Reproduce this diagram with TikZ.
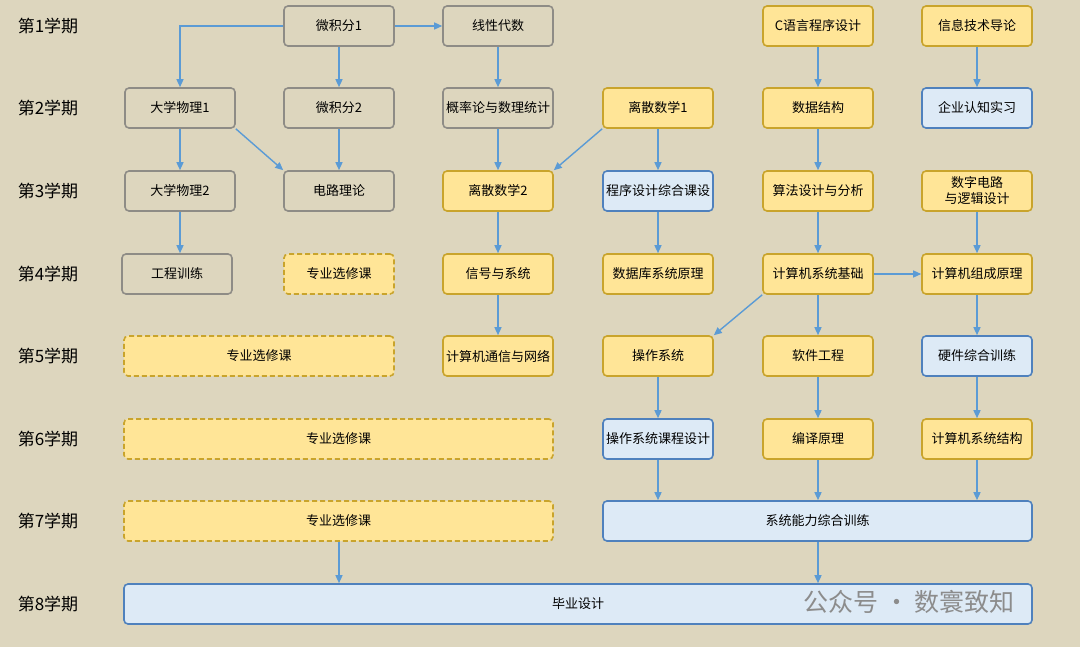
\documentclass[tikz,border=0pt]{standalone}
\usepackage{fontspec}
\setmainfont{Noto Sans CJK SC}
\usetikzlibrary{arrows.meta}
\definecolor{bgc}{HTML}{DDD6BE}
\definecolor{grayline}{HTML}{8E8C86}
\definecolor{yelfill}{HTML}{FFE597}
\definecolor{yelline}{HTML}{C9A42C}
\definecolor{bluefill}{HTML}{DDEAF6}
\definecolor{blueline}{HTML}{4F81BD}
\definecolor{arrowc}{HTML}{5B9BD5}
\tikzset{
  box/.style={draw, rounded corners=4pt, line width=1.6pt, minimum width=110pt,
    minimum height=40pt, align=center, inner sep=1pt, font=\fontsize{13}{15}\selectfont},
  grey/.style={box, draw=grayline, fill=bgc},
  yel/.style={box, draw=yelline, fill=yelfill},
  blu/.style={box, draw=blueline, fill=bluefill},
  elec/.style={yel, dashed, dash pattern=on 5pt off 3pt},
  term/.style={font=\fontsize{17}{17}\selectfont, anchor=center},
  arr/.style={draw=arrowc, line width=1.4pt, -{Triangle[length=8pt,width=7pt]}},
}
\begin{document}
\begin{tikzpicture}[x=1pt,y=-1pt]
  \fill[bgc] (0,0) rectangle (1080,647);
  \useasboundingbox (0,0) rectangle (1080,647);
  % semester labels
  \foreach \i/\y in {1/26,2/108,3/191,4/274,5/356,6/439,7/521,8/604}
    \node[term] (t\i) at (48,\y) {第\i 学期};
  % row 1
  \node[grey] (calcA) at (339,26) {微积分1};
  \node[grey] (linalg) at (498,26) {线性代数};
  \node[yel] (clang) at (818,26) {C语言程序设计};
  \node[yel] (infotech) at (977,26) {信息技术导论};
  % row 2
  \node[grey] (physA) at (180,108) {大学物理1};
  \node[grey] (calcB) at (339,108) {微积分2};
  \node[grey] (prob) at (498,108) {概率论与数理统计};
  \node[yel] (discA) at (658,108) {离散数学1};
  \node[yel] (dstruct) at (818,108) {数据结构};
  \node[blu] (intern) at (977,108) {企业认知实习};
  % row 3
  \node[grey] (physB) at (180,191) {大学物理2};
  \node[grey] (circuit) at (339,191) {电路理论};
  \node[yel] (discB) at (498,191) {离散数学2};
  \node[blu] (progdes) at (658,191) {程序设计综合课设};
  \node[yel] (algo) at (818,191) {算法设计与分析};
  \node[yel, font=\fontsize{13}{16}\selectfont] (digital) at (977,191) {数字电路\\与逻辑设计};
  % row 4
  \node[grey] (engtrain) at (177,274) {工程训练};
  \node[elec] (electA) at (339,274) {专业选修课};
  \node[yel] (signal) at (498,274) {信号与系统};
  \node[yel] (database) at (658,274) {数据库系统原理};
  \node[yel] (csbase) at (818,274) {计算机系统基础};
  \node[yel] (organ) at (977,274) {计算机组成原理};
  % row 5
  \node[elec, minimum width=270pt] (electB) at (259,356) {专业选修课};
  \node[yel] (network) at (498,356) {计算机通信与网络};
  \node[yel] (os) at (658,356) {操作系统};
  \node[yel] (softeng) at (818,356) {软件工程};
  \node[blu] (hardware) at (977,356) {硬件综合训练};
  % row 6
  \node[elec, minimum width=429pt] (electC) at (338.5,439) {专业选修课};
  \node[blu] (osdes) at (658,439) {操作系统课程设计};
  \node[yel] (compiler) at (818,439) {编译原理};
  \node[yel] (arch) at (977,439) {计算机系统结构};
  % row 7
  \node[elec, minimum width=429pt] (electD) at (338.5,521) {专业选修课};
  \node[blu, minimum width=429pt] (sysabil) at (817.5,521) {系统能力综合训练};
  % row 8
  \node[blu, minimum width=908pt] (thesis) at (578,604) {毕业设计};
  % watermark
  \node[text=black!45, font=\fontsize{25}{25}\selectfont, anchor=west] (mark) at (800,602) {公众号 · 数寰致知};
  % connectors
  \draw[arr] (calcA.west) -| (physA.north);
  \draw[arr] (calcA) -- (linalg);
  \draw[arr] (calcA) -- (calcB);
  \draw[arr] (linalg) -- (prob);
  \draw[arr] (clang) -- (dstruct);
  \draw[arr] (infotech) -- (intern);
  \draw[arr] (physA) -- (physB);
  \draw[arr] (physA.south east) -- (circuit.north west);
  \draw[arr] (calcB) -- (circuit);
  \draw[arr] (prob) -- (discB);
  \draw[arr] (discA.south west) -- (discB.north east);
  \draw[arr] (discA) -- (progdes);
  \draw[arr] (dstruct) -- (algo);
  \draw[arr] (physB) -- (physB |- engtrain.north);
  \draw[arr] (discB) -- (signal);
  \draw[arr] (progdes) -- (database);
  \draw[arr] (algo) -- (csbase);
  \draw[arr] (digital) -- (organ);
  \draw[arr] (csbase) -- (organ);
  \draw[arr] (signal) -- (network);
  \draw[arr] (csbase.south west) -- (os.north east);
  \draw[arr] (csbase) -- (softeng);
  \draw[arr] (organ) -- (hardware);
  \draw[arr] (os) -- (osdes);
  \draw[arr] (softeng) -- (compiler);
  \draw[arr] (hardware) -- (arch);
  \draw[arr] (osdes) -- (osdes |- sysabil.north);
  \draw[arr] (compiler) -- (compiler |- sysabil.north);
  \draw[arr] (arch) -- (arch |- sysabil.north);
  \draw[arr] (electD.south -| calcB) -- (calcB |- thesis.north);
  \draw[arr] (sysabil.south -| compiler) -- (compiler |- thesis.north);
\end{tikzpicture}
\end{document}
